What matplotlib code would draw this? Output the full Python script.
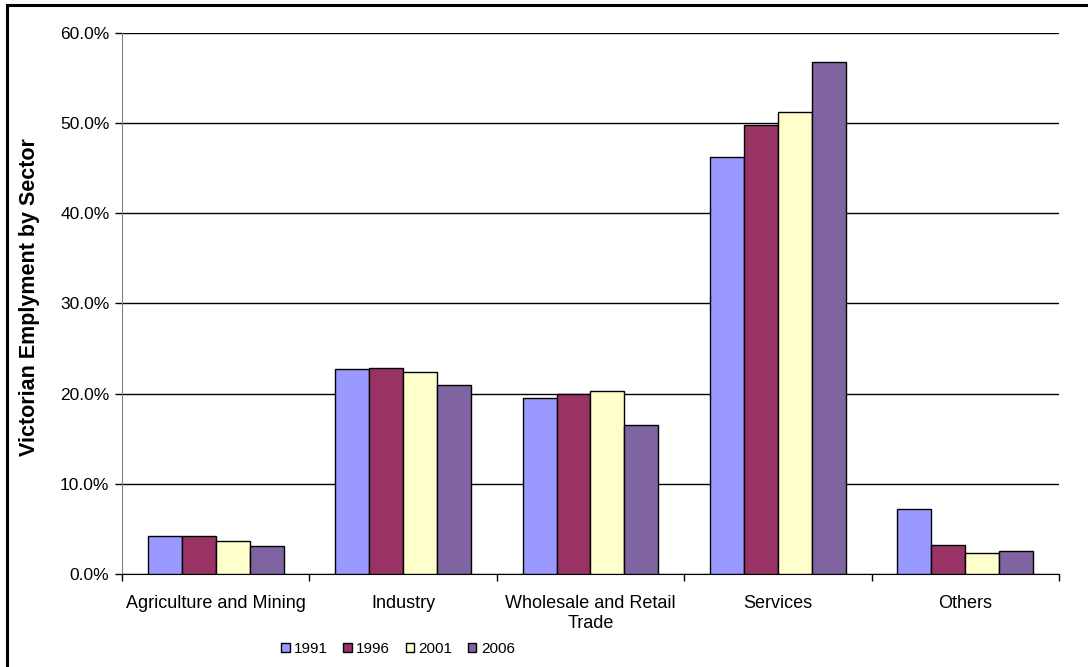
import matplotlib
matplotlib.use('Agg')
import matplotlib.pyplot as plt
import numpy as np
from matplotlib.patches import Rectangle
from matplotlib.ticker import FuncFormatter, FixedLocator

plt.rcParams['font.family'] = ['Liberation Sans', 'DejaVu Sans']

sectors = ['Agriculture and Mining', 'Industry', 'Wholesale and Retail\nTrade', 'Services', 'Others']
years = ['1991', '1996', '2001', '2006']
share_1991 = [4.24, 22.7, 19.5, 46.2, 7.2]
share_1996 = [4.24, 22.85, 20.0, 49.8, 3.2]
share_2001 = [3.7, 22.4, 20.33, 51.2, 2.4]
share_2006 = [3.13, 21.0, 16.5, 56.8, 2.6]
colors = ['#9999FF', '#993366', '#FFFFCC', '#8064A2']

fig = plt.figure(figsize=(10.88, 6.67), dpi=100)
ax = fig.add_axes([0.1121, 0.139, 0.8612, 0.812])

# outer chart border (right and bottom edges cut off in the original)
fig.patches.append(Rectangle((7 / 1088, -0.05), 1.1, 1 - 5 / 667 + 0.05,
                             transform=fig.transFigure, fill=False,
                             edgecolor='black', linewidth=2.2))

x = np.arange(len(sectors))
bw = 0.181
series = [share_1991, share_1996, share_2001, share_2006]
for i, (vals, c, yr) in enumerate(zip(series, colors, years)):
    ax.bar(x + (i - 1.5) * bw, vals, bw, color=c, edgecolor='black',
           linewidth=1.0, label=yr, zorder=3)

ax.set_xlim(-0.5, len(sectors) - 0.5)
ax.set_ylim(0, 60)
ax.set_yticks(np.arange(0, 61, 10))
ax.yaxis.set_major_formatter(FuncFormatter(lambda v, p: f'{v:.1f}%'))
ax.yaxis.grid(True, color='black', linewidth=1.0, zorder=0)
ax.set_axisbelow(True)

ax.set_xticks(x)
ax.set_xticklabels(sectors, fontsize=13, linespacing=1.2)
ax.tick_params(axis='x', length=0, pad=15)
ax.xaxis.set_minor_locator(FixedLocator(np.arange(-0.5, len(sectors), 1)))
ax.tick_params(axis='x', which='minor', length=5, width=1, color='black', direction='out')
ax.tick_params(axis='y', length=5, width=1, color='black', labelsize=12.5, pad=4)

for s in ['top', 'right']:
    ax.spines[s].set_visible(False)
ax.spines['left'].set_color('#808080')
ax.spines['bottom'].set_color('black')

ax.set_ylabel('Victorian Emplyment by Sector', fontsize=15.5, fontweight='bold')
ax.yaxis.set_label_coords(-0.088, 0.512)

ax.legend(loc='center', ncol=4, frameon=False, fontsize=11, handlelength=0.55, handleheight=0.55,
          handletextpad=0.3, columnspacing=1.0)
leg = ax.get_legend()
leg.set_bbox_to_anchor((398 / 1088, 18 / 667), transform=fig.transFigure)

fig.savefig('out.png', dpi=100)
